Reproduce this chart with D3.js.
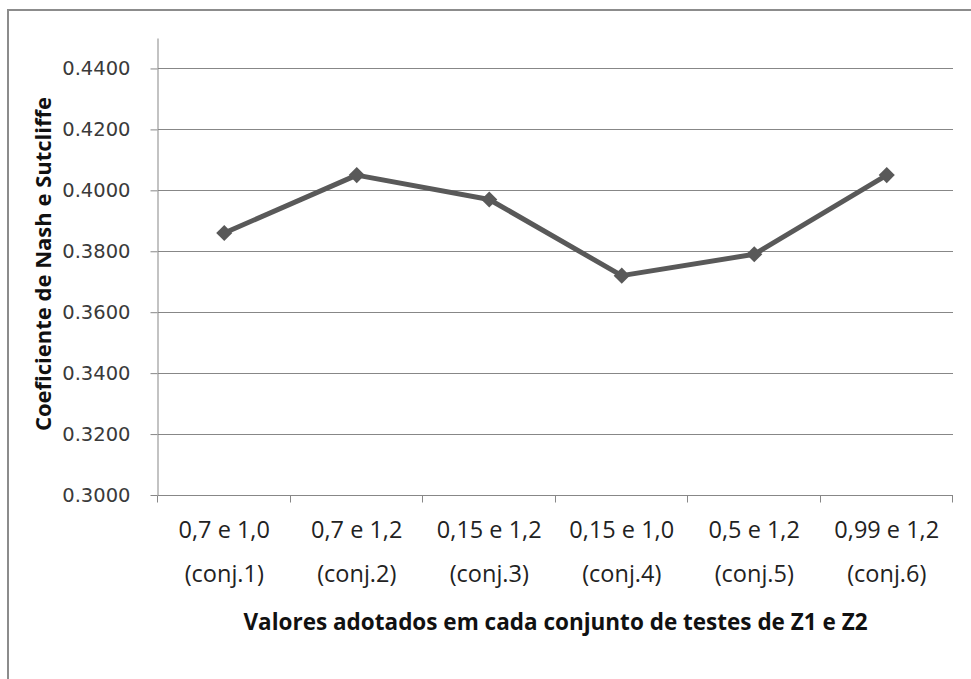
<!DOCTYPE html>
<html>
<head>
<meta charset="utf-8">
<script src="https://cdn.jsdelivr.net/npm/d3@7"></script>
<style>
  html, body { margin: 0; padding: 0; background: #fff; }
  svg { display: block; }
</style>
</head>
<body>
<svg id="chart"></svg>
<script>
// Nash-Sutcliffe por conjunto de testes Z1 / Z2

const width = 971;
const height = 679;

// dados
const rangeLabels = ["0,7 e 1,0", "0,7 e 1,2", "0,15 e 1,2", "0,15 e 1,0", "0,5 e 1,2", "0,99 e 1,2"];
const setLabels = ["(conj.1)", "(conj.2)", "(conj.3)", "(conj.4)", "(conj.5)", "(conj.6)"];
const nashValues = [0.386, 0.405, 0.397, 0.372, 0.379, 0.405];
const yTicks = [0.30, 0.32, 0.34, 0.36, 0.38, 0.40, 0.42, 0.44];

const plot = { left: 158, right: 953, top: 38, bottom: 495 };
const gridColor = "#878787";
const lineColor = "#595959";

const svg = d3.select("#chart")
  .attr("width", width)
  .attr("height", height);

// moldura externa (só topo e esquerda visíveis)
svg.append("rect")
  .attr("x", 8)
  .attr("y", 10)
  .attr("width", 1000)
  .attr("height", 800)
  .attr("fill", "none")
  .attr("stroke", "#8c8c8c")
  .attr("stroke-width", 2);

const x = d3.scaleBand()
  .domain(setLabels)
  .range([plot.left, plot.right]);

const y = d3.scaleLinear()
  .domain([0.30, 0.45])
  .range([plot.bottom, plot.top]);

// linhas de grade
svg.append("g")
  .selectAll("line")
  .data(yTicks.slice(1))
  .enter()
  .append("line")
  .attr("x1", plot.left)
  .attr("x2", plot.right)
  .attr("y1", function (d) { return Math.round(y(d)) + 0.5; })
  .attr("y2", function (d) { return Math.round(y(d)) + 0.5; })
  .attr("stroke", gridColor)
  .attr("stroke-width", 1);

// eixo Y
const yAxis = svg.append("g")
  .attr("transform", "translate(" + (plot.left - 0.5) + ",0)")
  .call(d3.axisLeft(y)
    .tickValues(yTicks)
    .tickFormat(d3.format(".4f"))
    .tickSize(7)
    .tickSizeOuter(0)
    .tickPadding(20));

yAxis.select(".domain").attr("stroke", gridColor);
yAxis.selectAll(".tick line").attr("stroke", gridColor);
yAxis.selectAll(".tick text")
  .attr("fill", "#3a3a3a")
  .style("font-family", "'DejaVu Sans', Verdana, sans-serif")
  .style("font-size", "19.5px");

// eixo X
const xAxis = svg.append("g")
  .attr("transform", "translate(0," + (plot.bottom + 0.5) + ")");

xAxis.append("line")
  .attr("x1", plot.left)
  .attr("x2", plot.right)
  .attr("stroke", gridColor);

const bounds = setLabels.map(function (d) { return x(d); }).concat([plot.right]);
xAxis.selectAll("line.tick")
  .data(bounds)
  .enter()
  .append("line")
  .attr("class", "tick")
  .attr("x1", function (d) { return Math.round(d) - 0.5; })
  .attr("x2", function (d) { return Math.round(d) - 0.5; })
  .attr("y1", 0)
  .attr("y2", 7)
  .attr("stroke", gridColor);

const labelFont = "'Open Sans', sans-serif";

xAxis.selectAll("text.range")
  .data(rangeLabels)
  .enter()
  .append("text")
  .attr("class", "range")
  .attr("x", function (d, i) { return x(setLabels[i]) + x.bandwidth() / 2; })
  .attr("y", 42)
  .attr("text-anchor", "middle")
  .attr("fill", "#222")
  .style("font-family", labelFont)
  .style("font-size", "23.5px")
  .text(function (d) { return d; });

xAxis.selectAll("text.set")
  .data(setLabels)
  .enter()
  .append("text")
  .attr("class", "set")
  .attr("x", function (d) { return x(d) + x.bandwidth() / 2; })
  .attr("y", 86)
  .attr("text-anchor", "middle")
  .attr("fill", "#222")
  .style("font-family", labelFont)
  .style("font-size", "23.5px")
  .text(function (d) { return d; });

// títulos dos eixos
svg.append("text")
  .attr("x", (plot.left + plot.right) / 2)
  .attr("y", 630)
  .attr("text-anchor", "middle")
  .attr("fill", "#111")
  .style("font-family", labelFont)
  .style("font-size", "22.5px")
  .style("font-weight", "bold")
  .text("Valores adotados em cada conjunto de testes de Z1 e Z2");

svg.append("text")
  .attr("transform", "translate(51,264) rotate(-90)")
  .attr("text-anchor", "middle")
  .attr("fill", "#111")
  .style("font-family", labelFont)
  .style("font-size", "22px")
  .style("font-weight", "bold")
  .text("Coeficiente de Nash e Sutcliffe");

// série
const cx = function (d, i) { return x(setLabels[i]) + x.bandwidth() / 2; };

const line = d3.line()
  .x(cx)
  .y(function (d) { return y(d); });

svg.append("path")
  .datum(nashValues)
  .attr("d", line)
  .attr("fill", "none")
  .attr("stroke", lineColor)
  .attr("stroke-width", 5)
  .attr("stroke-linejoin", "round");

svg.append("g")
  .selectAll("path")
  .data(nashValues)
  .enter()
  .append("path")
  .attr("transform", function (d, i) { return "translate(" + cx(d, i) + "," + y(d) + ")"; })
  .attr("d", d3.symbol().type(d3.symbolDiamond2).size(165))
  .attr("fill", lineColor);
</script>
</body>
</html>
